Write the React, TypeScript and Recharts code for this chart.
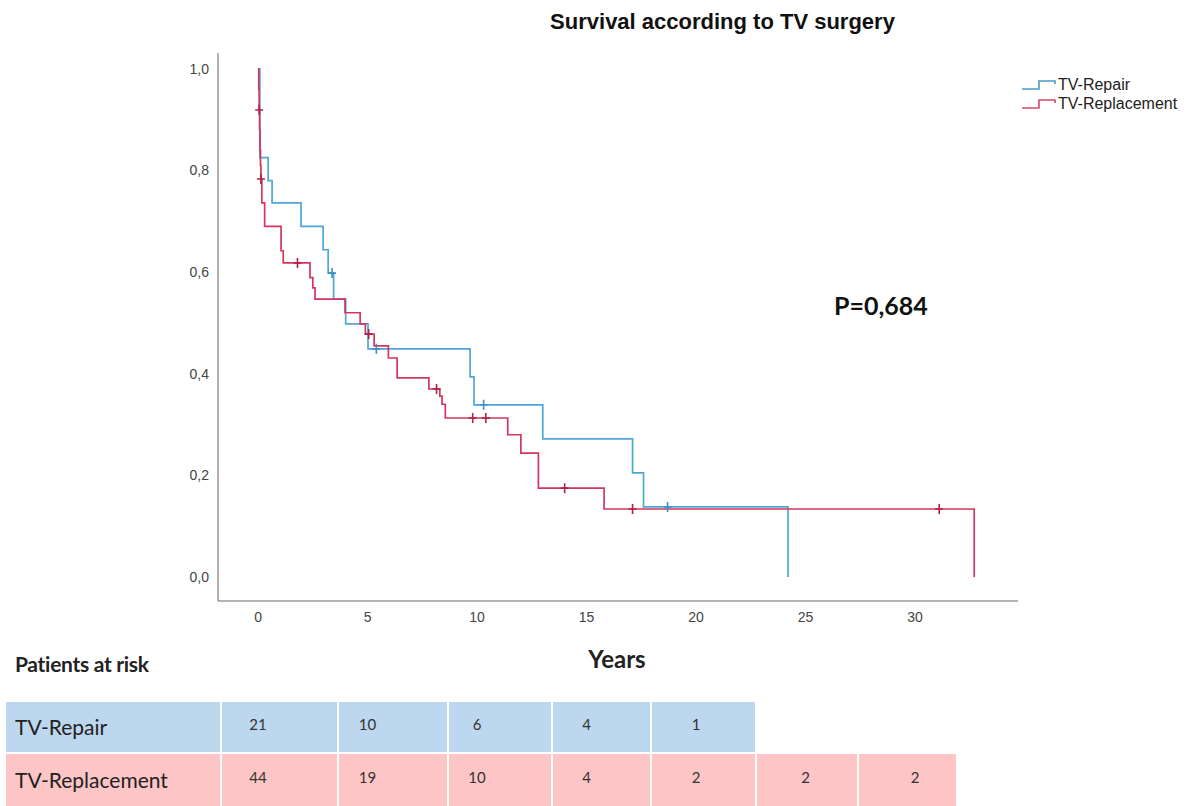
import React from "react";
import { LineChart, Line, XAxis, YAxis } from "recharts";

// Kaplan-Meier steps: t = years, s = survival, c = censored
const repairCurve = [
  { t: 0, s: 1 },
  { t: 0.08, s: 0.825 },
  { t: 0.46, s: 0.78 },
  { t: 0.64, s: 0.736 },
  { t: 1.96, s: 0.69 },
  { t: 2.97, s: 0.644 },
  { t: 3.2, s: 0.598 },
  { t: 3.38, s: 0.598, c: 1 },
  { t: 3.45, s: 0.547 },
  { t: 4.0, s: 0.498 },
  { t: 5.02, s: 0.449 },
  { t: 5.4, s: 0.449, c: 1 },
  { t: 9.68, s: 0.394 },
  { t: 9.86, s: 0.339 },
  { t: 10.3, s: 0.339, c: 1 },
  { t: 13.0, s: 0.272 },
  { t: 17.1, s: 0.205 },
  { t: 17.6, s: 0.138 },
  { t: 18.7, s: 0.138, c: 1 },
  { t: 24.2, s: 0 },
];

const replacementCurve = [
  { t: 0, s: 1 },
  { t: 0.03, s: 0.96 },
  { t: 0.05, s: 0.919, c: 1 },
  { t: 0.07, s: 0.88 },
  { t: 0.09, s: 0.84 },
  { t: 0.11, s: 0.81 },
  { t: 0.13, s: 0.783, c: 1 },
  { t: 0.17, s: 0.736 },
  { t: 0.3, s: 0.69 },
  { t: 1.05, s: 0.642 },
  { t: 1.15, s: 0.618 },
  { t: 1.8, s: 0.618, c: 1 },
  { t: 2.37, s: 0.589 },
  { t: 2.5, s: 0.569 },
  { t: 2.6, s: 0.547 },
  { t: 3.97, s: 0.52 },
  { t: 4.66, s: 0.498 },
  { t: 4.9, s: 0.478 },
  { t: 5.05, s: 0.478, c: 1 },
  { t: 5.3, s: 0.455 },
  { t: 5.95, s: 0.431 },
  { t: 6.35, s: 0.392 },
  { t: 7.8, s: 0.37 },
  { t: 8.15, s: 0.37, c: 1 },
  { t: 8.3, s: 0.356 },
  { t: 8.4, s: 0.34 },
  { t: 8.55, s: 0.313 },
  { t: 9.8, s: 0.313, c: 1 },
  { t: 10.4, s: 0.313, c: 1 },
  { t: 11.4, s: 0.28 },
  { t: 12.0, s: 0.244 },
  { t: 12.8, s: 0.175 },
  { t: 14.0, s: 0.175, c: 1 },
  { t: 15.8, s: 0.134 },
  { t: 17.1, s: 0.134, c: 1 },
  { t: 31.1, s: 0.134, c: 1 },
  { t: 32.7, s: 0 },
];

const xTicks = [0, 5, 10, 15, 20, 25, 30];
const yTicks = [0, 0.2, 0.4, 0.6, 0.8, 1.0];

const riskYears = [0, 5, 10, 15, 20, 25, 30];
const riskRepair = [21, 10, 6, 4, 1];
const riskReplacement = [44, 19, 10, 4, 2, 2, 2];

const BLUE = "#4fa6d8";
const RED = "#d3365f";

const X_DOMAIN = [-1.83, 34.7];
const PLOT_LEFT = 218;
const PLOT_RIGHT = 1018;
const xPx = (t: number) =>
  PLOT_LEFT + ((t - X_DOMAIN[0]) / (X_DOMAIN[1] - X_DOMAIN[0])) * (PLOT_RIGHT - PLOT_LEFT);

// cell boundaries of the at-risk table
const cellEdges = [6, 222, 339, 449, 553, 652, 757, 859, 958];

const comma = (v: number) => v.toFixed(1).replace(".", ",");

const censorDot = (color: string) => (props: any) => {
  const { cx, cy, payload, index } = props;
  if (!payload || !payload.c) return <g key={`n${index}`} />;
  return (
    <path
      key={`c${index}`}
      d={`M${cx - 4},${cy} H${cx + 4} M${cx},${cy - 5} V${cy + 5}`}
      stroke={color}
      strokeWidth={1.6}
      fill="none"
    />
  );
};

function LegendIcon({ color }: { color: string }) {
  return (
    <svg width={36} height={14} style={{ display: "block" }}>
      <path d="M1,11 H18 V3 H34 V6" stroke={color} strokeWidth={1.6} fill="none" />
    </svg>
  );
}

function RiskRow({
  top,
  height,
  label,
  values,
  bg,
}: {
  top: number;
  height: number;
  label: string;
  values: number[];
  bg: string;
}) {
  return (
    <>
      <div
        style={{
          position: "absolute",
          left: cellEdges[0],
          top,
          width: cellEdges[1] - cellEdges[0] - 2,
          height,
          background: bg,
        }}
      />
      <div
        style={{
          position: "absolute",
          left: 15,
          top,
          height,
          lineHeight: `${height}px`,
          fontFamily: "Lato, 'Open Sans', sans-serif",
          fontSize: 21,
          color: "#222",
        }}
      >
        {label}
      </div>
      {values.map((v, i) => (
        <React.Fragment key={i}>
          <div
            style={{
              position: "absolute",
              left: cellEdges[i + 1],
              top,
              width: cellEdges[i + 2] - cellEdges[i + 1] - 2,
              height,
              background: bg,
            }}
          />
          <div
            style={{
              position: "absolute",
              left: xPx(riskYears[i]) - 20,
              width: 40,
              textAlign: "center",
              top: top - 3,
              height,
              lineHeight: `${height}px`,
              fontFamily: "Lato, 'Open Sans', sans-serif",
              fontSize: 15,
              color: "#333",
            }}
          >
            {v}
          </div>
        </React.Fragment>
      ))}
    </>
  );
}

export default function App() {
  return (
    <div
      style={{
        position: "absolute",
        left: 0,
        top: 0,
        width: 1204,
        height: 806,
        background: "#fff",
        fontFamily: "'Liberation Sans', Arial, sans-serif",
        overflow: "hidden",
      }}
    >
      <div
        style={{
          position: "absolute",
          left: 470,
          width: 505,
          top: 9,
          textAlign: "center",
          fontWeight: "bold",
          fontSize: 22,
          color: "#111",
        }}
      >
        Survival according to TV surgery
      </div>

      <LineChart
        width={1204}
        height={640}
        margin={{ top: 53, right: 186, left: 0, bottom: 0 }}
        style={{ position: "absolute", left: 0, top: 0 }}
      >
        <XAxis
          type="number"
          dataKey="t"
          domain={X_DOMAIN}
          ticks={xTicks}
          allowDataOverflow
          height={39}
          stroke="#9a9a9a"
          strokeWidth={1.5}
          tickLine={false}
          tickSize={0}
          tickMargin={11}
          tick={{ fill: "#444", fontSize: 14 }}
        />
        <YAxis
          type="number"
          dataKey="s"
          domain={[-0.047, 1.031]}
          ticks={yTicks}
          allowDataOverflow
          width={218}
          stroke="#9a9a9a"
          strokeWidth={1.5}
          tickLine={false}
          tickSize={0}
          tickMargin={9}
          tickFormatter={comma}
          tick={{ fill: "#444", fontSize: 14 }}
        />
        <Line
          data={repairCurve}
          dataKey="s"
          type="stepAfter"
          stroke={BLUE}
          strokeWidth={1.7}
          dot={censorDot("#3c8fc4")}
          activeDot={false}
          isAnimationActive={false}
        />
        <Line
          data={replacementCurve}
          dataKey="s"
          type="stepAfter"
          stroke={RED}
          strokeWidth={1.7}
          dot={censorDot("#b02048")}
          activeDot={false}
          isAnimationActive={false}
        />
      </LineChart>

      <div style={{ position: "absolute", left: 1021, top: 75, fontSize: 16, color: "#222" }}>
        <div style={{ display: "flex", alignItems: "center", height: 19 }}>
          <LegendIcon color="#4a9cc4" />
          <span style={{ marginLeft: 1 }}>TV-Repair</span>
        </div>
        <div style={{ display: "flex", alignItems: "center", height: 19 }}>
          <LegendIcon color="#d4486e" />
          <span style={{ marginLeft: 1 }}>TV-Replacement</span>
        </div>
      </div>

      <div
        style={{
          position: "absolute",
          left: 834,
          top: 290,
          fontWeight: "bold",
          fontSize: 25,
          fontFamily: "Lato, 'Liberation Sans', sans-serif",
          color: "#111",
        }}
      >
        P=0,684
      </div>

      <div
        style={{
          position: "absolute",
          left: 517,
          width: 200,
          top: 644,
          textAlign: "center",
          fontWeight: "bold",
          fontSize: 24,
          fontFamily: "Lato, sans-serif",
          color: "#222",
        }}
      >
        Years
      </div>

      <div
        style={{
          position: "absolute",
          left: 15,
          top: 651,
          fontWeight: "bold",
          fontSize: 21,
          fontFamily: "Lato, sans-serif",
          color: "#222",
          letterSpacing: -0.3,
        }}
      >
        Patients at risk
      </div>

      <RiskRow top={702} height={50} label="TV-Repair" values={riskRepair} bg="#bdd7ee" />
      <RiskRow top={754} height={52} label="TV-Replacement" values={riskReplacement} bg="#fdc5c5" />
    </div>
  );
}
